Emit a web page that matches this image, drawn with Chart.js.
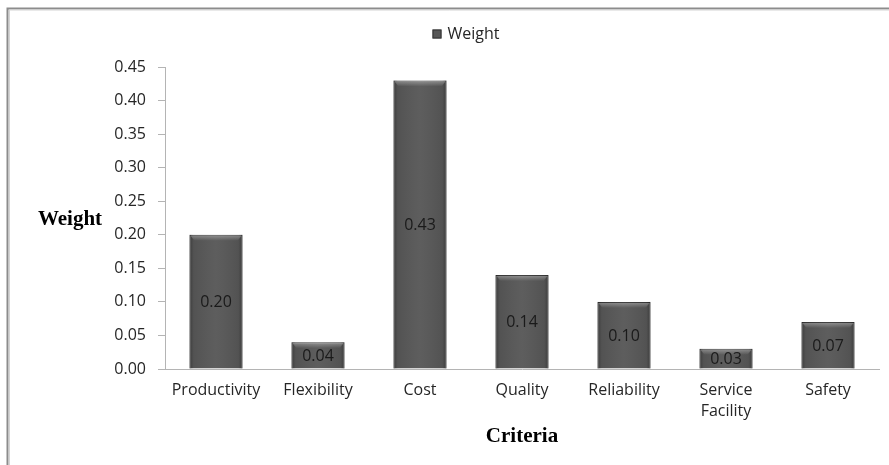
<!DOCTYPE html>
<html>
<head>
<meta charset="utf-8">
<script src="https://cdn.jsdelivr.net/npm/chart.js@4.4.1/dist/chart.umd.min.js"></script>
<style>
  html, body { margin: 0; padding: 0; background: #fff; }
  #wrap { position: relative; width: 889px; height: 465px; }
</style>
</head>
<body>
<div id="wrap"><canvas id="c" width="889" height="465"></canvas></div>
<script>
// Criteria weights
const criteria = ['Productivity', 'Flexibility', 'Cost', 'Quality', 'Reliability', ['Service', 'Facility'], 'Safety'];
const weights = [0.20, 0.04, 0.43, 0.14, 0.10, 0.03, 0.07];
const seriesName = 'Weight';
const yTicks = [0, 0.05, 0.10, 0.15, 0.20, 0.25, 0.30, 0.35, 0.40, 0.45];

const tickFont = { family: 'Open Sans', size: 16, lineHeight: 1.3 };
const barColor = '#575757';
const legendCenterX = 466;

// Outer frame, legend, axis titles and value labels
const decor = {
  id: 'decor',
  beforeDraw(chart) {
    const ctx = chart.ctx;
    ctx.save();
    ctx.fillStyle = '#fff';
    ctx.fillRect(0, 0, chart.width, chart.height);
    ctx.strokeStyle = '#8c8c8c';
    ctx.lineWidth = 2;
    ctx.beginPath();
    ctx.moveTo(7.5, chart.height);
    ctx.lineTo(7.5, 8.5);
    ctx.lineTo(chart.width, 8.5);
    ctx.stroke();
    ctx.strokeStyle = '#d4d4d4';
    ctx.lineWidth = 1;
    ctx.beginPath();
    ctx.moveTo(9.5, chart.height);
    ctx.lineTo(9.5, 10);
    ctx.lineTo(chart.width, 10);
    ctx.stroke();

    // legend: swatch + series name
    ctx.font = '16px "Open Sans"';
    const tw = ctx.measureText(seriesName).width;
    const total = 9 + 6 + tw;
    const x0 = legendCenterX - total / 2;
    const cy = 34;
    ctx.fillStyle = barColor;
    ctx.fillRect(x0, cy - 4.5, 9, 9);
    ctx.strokeStyle = '#333';
    ctx.lineWidth = 1;
    ctx.strokeRect(x0 + 0.5, cy - 4, 8, 8);
    ctx.fillStyle = '#262626';
    ctx.textAlign = 'left';
    ctx.textBaseline = 'middle';
    ctx.fillText(seriesName, x0 + 15, cy);
    ctx.restore();
  },
  afterDatasetsDraw(chart) {
    const ctx = chart.ctx;
    const meta = chart.getDatasetMeta(0);
    const area = chart.chartArea;
    ctx.save();
    meta.data.forEach((bar, i) => {
      const left = bar.x - bar.width / 2;
      const right = bar.x + bar.width / 2;
      const top = bar.y;
      const bottom = bar.base;
      // side shading
      const g = ctx.createLinearGradient(left, 0, right, 0);
      g.addColorStop(0, 'rgba(0,0,0,0.30)');
      g.addColorStop(0.08, 'rgba(0,0,0,0.05)');
      g.addColorStop(0.5, 'rgba(255,255,255,0.04)');
      g.addColorStop(0.92, 'rgba(0,0,0,0.05)');
      g.addColorStop(1, 'rgba(0,0,0,0.30)');
      ctx.fillStyle = g;
      ctx.fillRect(left, top, right - left, bottom - top);
      // top bevel
      const bv = Math.min(6, (bottom - top) / 3);
      const gt = ctx.createLinearGradient(0, top, 0, top + bv);
      gt.addColorStop(0, 'rgba(255,255,255,0.35)');
      gt.addColorStop(1, 'rgba(255,255,255,0)');
      ctx.fillStyle = gt;
      ctx.beginPath();
      ctx.moveTo(left + 1, top + 1);
      ctx.lineTo(right - 1, top + 1);
      ctx.lineTo(right - 5, top + bv);
      ctx.lineTo(left + 5, top + bv);
      ctx.closePath();
      ctx.fill();
      // value label
      ctx.fillStyle = '#1a1a1a';
      ctx.font = '16px "Open Sans"';
      ctx.textAlign = 'center';
      ctx.textBaseline = 'middle';
      ctx.fillText(weights[i].toFixed(2), bar.x, (top + bottom) / 2 + 1);
    });
    // axis titles
    ctx.fillStyle = '#000';
    ctx.font = 'bold 21px "Liberation Serif"';
    ctx.textAlign = 'center';
    ctx.textBaseline = 'middle';
    ctx.fillText('Weight', 70, 220);
    ctx.fillText('Criteria', (area.left + area.right) / 2, 437);
    ctx.restore();
  }
};

new Chart(document.getElementById('c'), {
  type: 'bar',
  data: {
    labels: criteria,
    datasets: [{
      label: seriesName,
      data: weights,
      backgroundColor: barColor,
      borderColor: '#3a3a3a',
      borderWidth: 1,
      borderSkipped: 'bottom',
      categoryPercentage: 1,
      barPercentage: 0.52
    }]
  },
  options: {
    responsive: false,
    animation: false,
    devicePixelRatio: 1,
    layout: { padding: { left: 0, right: 10, top: 67, bottom: 0 } },
    plugins: {
      legend: { display: false },
      tooltip: { enabled: false }
    },
    scales: {
      x: {
        grid: { display: false, drawTicks: false },
        border: { color: '#b4b4b4', width: 1 },
        ticks: {
          color: '#262626',
          font: tickFont,
          padding: 11,
          maxRotation: 0,
          autoSkip: false
        },
        afterFit(s) { s.height = 96; }
      },
      y: {
        min: 0,
        max: 0.45,
        afterBuildTicks(s) { s.ticks = yTicks.map(v => ({ value: v })); },
        grid: { display: true, drawOnChartArea: false, tickLength: 7, color: '#b4b4b4' },
        border: { color: '#b4b4b4', width: 1 },
        ticks: {
          color: '#262626',
          font: tickFont,
          padding: 12,
          callback: v => Number(v).toFixed(2)
        },
        afterFit(s) { s.width = 165; }
      }
    }
  },
  plugins: [decor]
});
</script>
</body>
</html>
